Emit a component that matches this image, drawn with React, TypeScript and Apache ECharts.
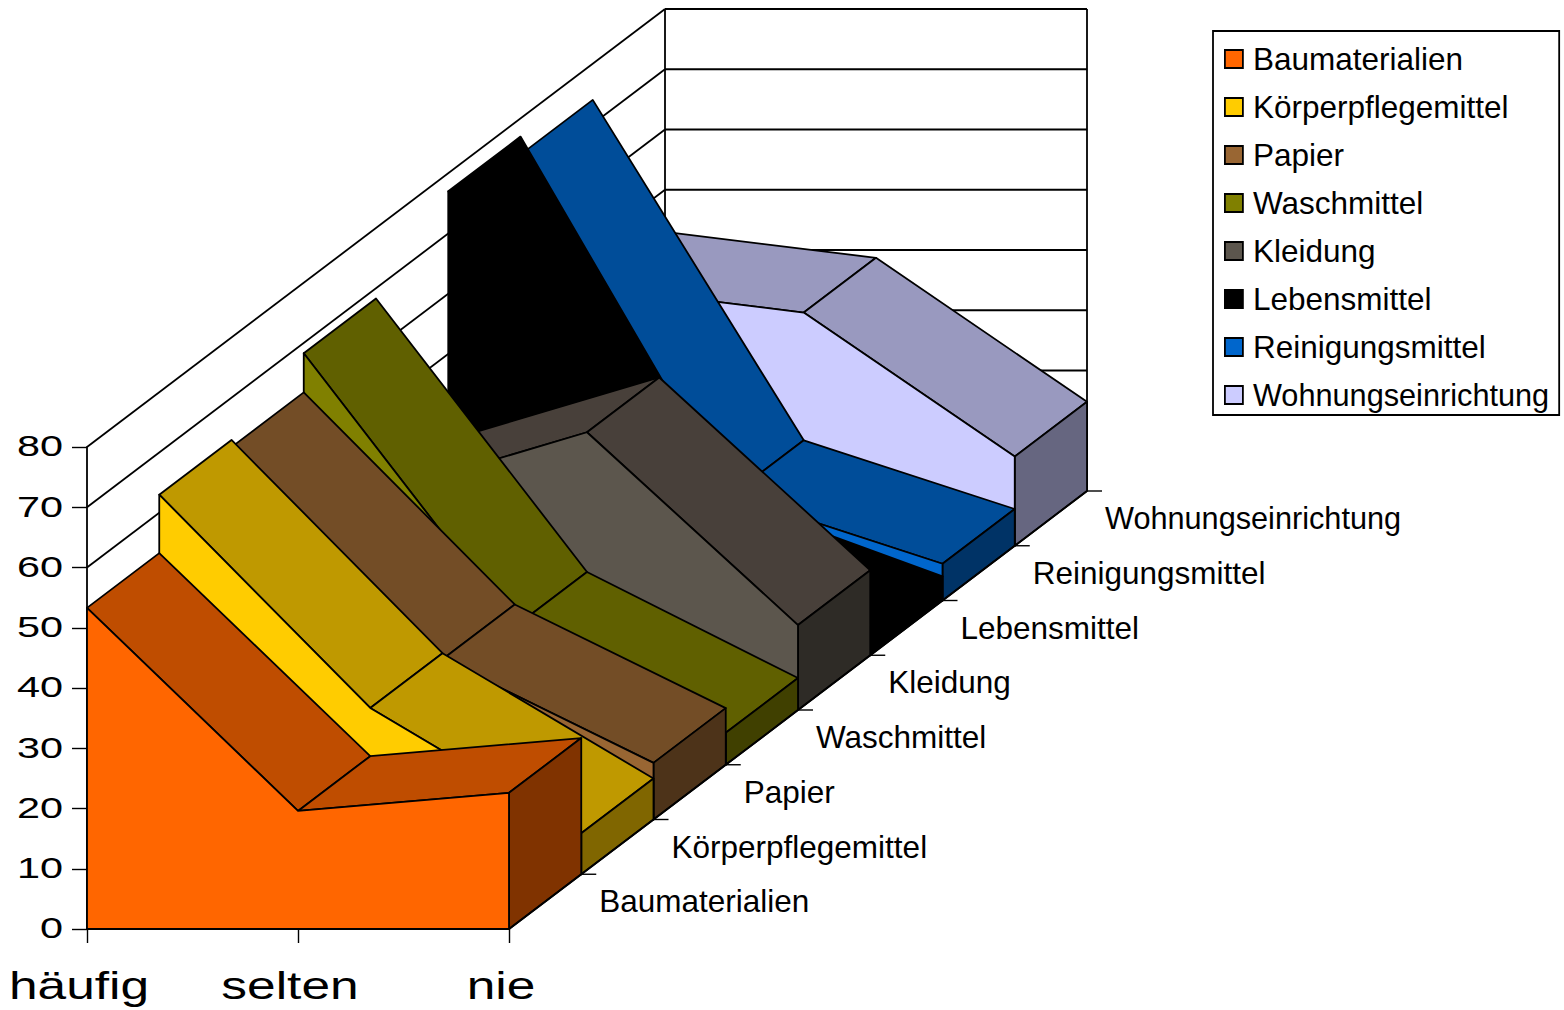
import React, { useEffect, useRef } from "react";
import * as echarts from "echarts";

const categories = ["häufig", "selten", "nie"];
const yTicks = [0, 10, 20, 30, 40, 50, 60, 70, 80];
const seriesNames = ["Baumaterialien", "Körperpflegemittel", "Papier", "Waschmittel", "Kleidung", "Lebensmittel", "Reinigungsmittel", "Wohnungseinrichtung"];

const baumaterialien = [53.3, 19.6, 22.6];
const koerperpflegemittel = [63, 27.6, 6.8];
const papier = [61.8, 26.6, 9.4];
const waschmittel = [68.3, 22.9, 5.3];
const kleidung = [35.7, 46.1, 14.1];
const lebensmittel = [77, 16.8, 4];
const reinigungsmittel = [74, 17.5, 6.1];
const wohnungseinrichtung = [43, 38.7, 14.8];
const allValues = [baumaterialien, koerperpflegemittel, papier, waschmittel, kleidung, lebensmittel, reinigungsmittel, wohnungseinrichtung];

const frontColors = ["#ff6600", "#ffcc00", "#996633", "#808000", "#5c564d", "#000000", "#0066cc", "#ccccff"];
const topColors = ["#bf4d00", "#bf9900", "#734d26", "#606000", "#48403a", "#000000", "#004d99", "#9999bf"];
const sideColors = ["#803300", "#806600", "#4d3319", "#404000", "#2e2b26", "#000000", "#003366", "#666680"];

// oblique projection step for one depth slot, in pixels
const DX = 72.25;
const DY = -54.75;
const DEPTHS = seriesNames.length;
const EDGE = { stroke: "#000", lineWidth: 1.8 };
const FONT = '"Liberation Sans", Arial, sans-serif';
const LONG_NAME = "Wohnungseinrichtung";

function project(api: any, cat: number, val: number, depth: number) {
  const c = api.coord([cat, val]);
  return [c[0] + DX * depth, c[1] + DY * depth];
}

function line(a: number[], b: number[], lineWidth = 1.8) {
  return { type: "line", shape: { x1: a[0], y1: a[1], x2: b[0], y2: b[1] }, style: { stroke: "#000", lineWidth, fill: "none" } };
}

function poly(points: number[][], fill: string) {
  return { type: "polygon", shape: { points }, style: { fill, ...EDGE, lineJoin: "round" } };
}

function areaSeries(idx: number) {
  const values = allValues[idx];
  const last = values.length - 1;
  return {
    type: "custom",
    name: seriesNames[idx],
    coordinateSystem: "cartesian2d",
    clip: false,
    silent: true,
    z: 3,
    itemStyle: { color: frontColors[idx] },
    encode: { x: 0, y: 1 },
    data: values.map((v, i) => [i, v]),
    renderItem: (_p: any, api: any) => {
      const i = api.value(0);
      const children: any[] = [];
      if (i < last) {
        children.push(
          poly(
            [
              project(api, i, values[i], idx),
              project(api, i + 1, values[i + 1], idx),
              project(api, i + 1, values[i + 1], idx + 1),
              project(api, i, values[i], idx + 1),
            ],
            topColors[idx]
          )
        );
      } else {
        children.push(
          poly(
            [
              project(api, last, values[last], idx),
              project(api, last, values[last], idx + 1),
              project(api, last, 0, idx + 1),
              project(api, last, 0, idx),
            ],
            sideColors[idx]
          )
        );
        const front = values.map((v, c) => project(api, c, v, idx));
        front.push(project(api, last, 0, idx), project(api, 0, 0, idx));
        children.push(poly(front, frontColors[idx]));
      }
      return { type: "group", children };
    },
  };
}

function buildOption() {
  const wall = {
    type: "custom",
    coordinateSystem: "cartesian2d",
    clip: false,
    silent: true,
    z: 2,
    data: yTicks.map((v) => [0, v]),
    renderItem: (_p: any, api: any) => {
      const v = api.value(1);
      const children: any[] = [
        line(project(api, 0, v, 0), project(api, 0, v, DEPTHS)),
        line(project(api, 0, v, DEPTHS), project(api, 2, v, DEPTHS)),
      ];
      if (v === yTicks[yTicks.length - 1]) {
        children.push(line(project(api, 0, 0, DEPTHS), project(api, 0, v, DEPTHS)));
        children.push(line(project(api, 2, 0, DEPTHS), project(api, 2, v, DEPTHS)));
      }
      return { type: "group", children };
    },
  };

  const depthAxis = {
    type: "custom",
    coordinateSystem: "cartesian2d",
    clip: false,
    silent: true,
    z: 4,
    data: seriesNames.map((_n, i) => [2, i]),
    renderItem: (_p: any, api: any) => {
      const d = api.value(1);
      const tick = project(api, 2, 0, d + 1);
      const prev = project(api, 2, 0, d);
      return {
        type: "group",
        children: [
          line(prev, tick),
          line(tick, [tick[0] + 15, tick[1]], 1.4),
          {
            type: "text",
            x: tick[0] + 18,
            y: tick[1] + 27,
            scaleX: seriesNames[d] === LONG_NAME ? 0.974 : 1,
            style: { text: seriesNames[d], fill: "#000", font: `31.5px ${FONT}`, textAlign: "left", textVerticalAlign: "middle" },
          },
        ],
      };
    },
  };

  const yLabels = {
    type: "custom",
    coordinateSystem: "cartesian2d",
    clip: false,
    silent: true,
    z: 4,
    data: yTicks.map((v) => [0, v]),
    renderItem: (_p: any, api: any) => {
      const v = api.value(1);
      const c = api.coord([0, v]);
      return {
        type: "text",
        x: c[0] - 24,
        y: c[1] - 1,
        scaleX: 1.38,
        style: { text: String(v), fill: "#000", font: `30px ${FONT}`, textAlign: "right", textVerticalAlign: "middle" },
      };
    },
  };

  const xLabels = {
    type: "custom",
    coordinateSystem: "cartesian2d",
    clip: false,
    silent: true,
    z: 4,
    data: categories.map((_c, i) => [i, 0]),
    renderItem: (_p: any, api: any) => {
      const i = api.value(0);
      const c = api.coord([i, 0]);
      return {
        type: "text",
        x: c[0] - 8,
        y: c[1] + 57,
        scaleX: 1.32,
        style: { text: categories[i], fill: "#000", font: `39px ${FONT}`, textAlign: "center", textVerticalAlign: "middle" },
      };
    },
  };

  return {
    animation: false,
    backgroundColor: "#ffffff",
    grid: { left: 87, top: 447, width: 422, height: 482, containLabel: false },
    xAxis: {
      type: "category",
      data: categories,
      boundaryGap: false,
      axisLine: { show: true, lineStyle: { color: "#000", width: 1.8 } },
      axisTick: { show: true, length: 14, lineStyle: { color: "#000", width: 1.4 } },
      axisLabel: { show: false },
      splitLine: { show: false },
    },
    yAxis: {
      type: "value",
      min: 0,
      max: 80,
      interval: 10,
      axisLine: { show: true, lineStyle: { color: "#000", width: 1.8 } },
      axisTick: { show: true, length: 15, lineStyle: { color: "#000", width: 1.4 } },
      axisLabel: { show: false },
      splitLine: { show: false },
    },
    legend: {
      show: true,
      orient: "vertical",
      left: 1213,
      top: 31,
      padding: [12, 10, 4, 11],
      itemGap: 16,
      itemWidth: 28,
      itemHeight: 18,
      icon: "path://M0,0H18V18H0Z",
      symbolKeepAspect: true,
      selectedMode: false,
      borderColor: "#000",
      borderWidth: 1.8,
      backgroundColor: "#fff",
      itemStyle: { borderColor: "#000", borderWidth: 1.8 },
      textStyle: {
        color: "#000",
        fontSize: 31.5,
        fontFamily: FONT,
        lineHeight: 32,
        rich: { w: { color: "#000", fontSize: 30.7, fontFamily: FONT, lineHeight: 32 } },
      },
      formatter: (n: string) => (n === LONG_NAME ? `{w|${n}}` : n),
      data: seriesNames,
    },
    series: [wall, ...[7, 6, 5, 4, 3, 2, 1, 0].map(areaSeries), depthAxis, yLabels, xLabels],
  };
}

export default function App() {
  const ref = useRef<HTMLDivElement>(null);
  useEffect(() => {
    const chart = echarts.init(ref.current!, undefined, { renderer: "svg" });
    chart.setOption(buildOption() as any);
    return () => chart.dispose();
  }, []);
  return <div ref={ref} style={{ position: "fixed", left: 0, top: 0, width: 1564, height: 1010 }} />;
}
